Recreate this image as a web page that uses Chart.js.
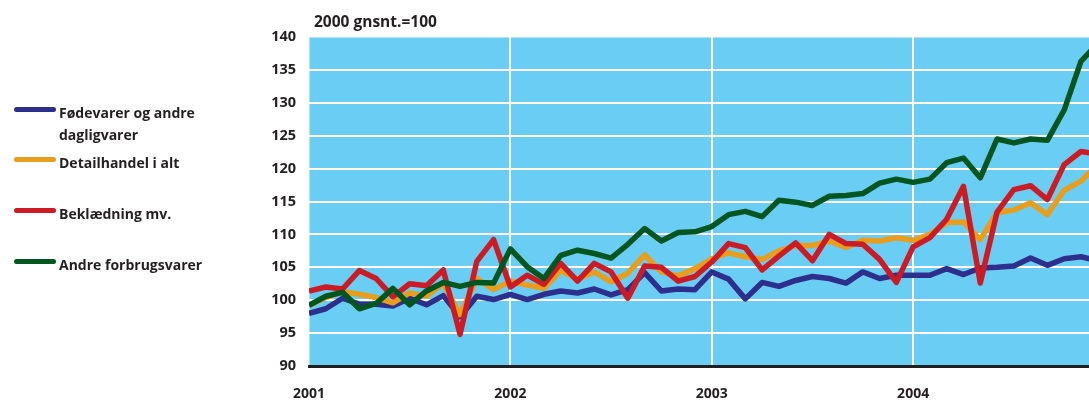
<!DOCTYPE html>
<html>
<head>
<meta charset="utf-8">
<script src="https://cdn.jsdelivr.net/npm/chart.js@4"></script>
<style>
  body { margin: 0; background: #fff; width: 1089px; height: 418px; overflow: hidden; position: relative; }
  #wrap { position: absolute; left: 0; top: 0; width: 1089px; height: 418px; }
  .txt { position: absolute; font-family: "Open Sans", sans-serif; font-weight: 700; font-size: 14px; color: #231F20; white-space: nowrap; }
  .sw { position: absolute; left: 14px; width: 42px; height: 5px; border-radius: 3px; }
</style>
</head>
<body>
<div id="wrap"><canvas id="retail" width="1089" height="418"></canvas></div>
<div class="txt" style="left:314px; top:10px; font-size:15.5px;">2000 gnsnt.=100</div>
<div id="legend"></div>
<script>
// labels
const yearLabels = ['2001', '2002', '2003', '2004'];
const seriesNames = ['Fødevarer og andre dagligvarer', 'Detailhandel i alt', 'Beklædning mv.', 'Andre forbrugsvarer'];
const seriesColors = ['#2E2F8C', '#E89D1C', '#CC1B24', '#00561E'];

// monthly index values, jan 2001 .. dec 2004
const food = [98.0, 98.7, 100.3, 99.4, 99.4, 99.1, 100.3, 99.3, 100.7, 97.5, 100.6, 100.1,
  100.9, 100.1, 100.9, 101.4, 101.1, 101.7, 100.8, 101.6, 104.2, 101.4, 101.7, 101.6,
  104.3, 103.2, 100.2, 102.7, 102.1, 103.0, 103.6, 103.3, 102.6, 104.3, 103.3, 103.8,
  103.8, 103.8, 104.8, 103.9, 104.9, 105.0, 105.2, 106.4, 105.3, 106.3, 106.6, 106.0];
const total = [99.2, 100.4, 101.3, 100.9, 100.4, 99.6, 101.1, 100.6, 102.6, 97.8, 103.3, 101.6,
  102.9, 102.3, 101.8, 104.5, 103.2, 104.3, 102.8, 104.1, 106.9, 104.3, 103.7, 104.8,
  106.3, 107.2, 106.6, 106.2, 107.5, 108.3, 108.3, 109.0, 108.0, 109.1, 109.0, 109.5,
  109.1, 110.0, 111.8, 111.9, 109.2, 113.3, 113.7, 114.8, 113.0, 116.7, 118.1, 120.6];
const clothes = [101.4, 102.0, 101.7, 104.5, 103.3, 100.5, 102.5, 102.2, 104.6, 94.8, 105.9, 109.2,
  102.0, 103.8, 102.4, 105.6, 102.9, 105.6, 104.3, 100.3, 105.2, 105.0, 102.9, 103.6,
  105.8, 108.6, 108.0, 104.6, 106.7, 108.7, 106.0, 110.0, 108.6, 108.5, 106.2, 102.7,
  108.1, 109.5, 112.3, 117.3, 102.6, 113.4, 116.8, 117.4, 115.3, 120.6, 122.6, 122.2];
const other = [99.2, 100.6, 101.2, 98.7, 99.5, 101.8, 99.3, 101.4, 102.7, 102.1, 102.7, 102.6,
  107.8, 105.1, 103.3, 106.8, 107.6, 107.1, 106.4, 108.5, 110.9, 109.0, 110.3, 110.4,
  111.2, 113.0, 113.5, 112.7, 115.2, 114.9, 114.4, 115.8, 115.9, 116.2, 117.8, 118.4,
  117.9, 118.4, 120.9, 121.6, 118.6, 124.5, 123.9, 124.5, 124.3, 128.9, 136.3, 139.0];

const seriesValues = [food, total, clothes, other];

// html legend
const legendTops = [109, 159, 210, 261];
const legend = document.getElementById('legend');
seriesNames.forEach((name, i) => {
  const sw = document.createElement('div');
  sw.className = 'sw';
  sw.style.top = (legendTops[i] - 2.5) + 'px';
  sw.style.background = seriesColors[i];
  legend.appendChild(sw);
  const t = document.createElement('div');
  t.className = 'txt';
  t.style.left = '59px';
  t.style.top = (legendTops[i] - 7) + 'px';
  t.style.lineHeight = '22px';
  t.style.fontSize = '14px';
  t.innerHTML = i === 0 ? 'Fødevarer og andre<br>dagligvarer' : name;
  legend.appendChild(t);
});

// fill plot area
const plotBg = {
  id: 'plotBg',
  beforeDraw(chart) {
    const { ctx, chartArea: a } = chart;
    ctx.save();
    ctx.fillStyle = '#6ACEF4';
    ctx.fillRect(a.left, a.top, a.right - a.left, a.bottom - a.top);
    ctx.restore();
  }
};

const toPoints = arr => arr.map((v, i) => ({ x: i, y: v }));

// green drawn last (dataset 0 is on top)
const drawOrder = [3, 2, 1, 0];
const datasets = drawOrder.map(i => ({
  label: seriesNames[i],
  data: toPoints(seriesValues[i]),
  borderColor: seriesColors[i],
  borderWidth: 5.5,
  borderJoinStyle: 'round',
  pointRadius: 0,
  tension: 0,
  fill: false
}));

new Chart(document.getElementById('retail'), {
  type: 'line',
  data: { datasets },
  options: {
    responsive: false,
    animation: false,
    layout: { padding: { top: 37, right: 0, bottom: 0, left: 0 } },
    plugins: { legend: { display: false }, tooltip: { enabled: false } },
    scales: {
      x: {
        type: 'linear',
        min: 0,
        max: 46.48,
        afterBuildTicks: s => { s.ticks = [0, 12, 24, 36].map(v => ({ value: v })); },
        afterFit: s => { s.height = 52; },
        ticks: {
          callback: v => yearLabels[v / 12],
          color: '#231F20',
          font: { family: 'Open Sans', weight: 'bold', size: 14 },
          padding: 20,
          maxRotation: 0
        },
        grid: {
          color: c => c.index === 0 ? 'rgba(255,255,255,0.45)' : '#ffffff',
          lineWidth: 2,
          drawTicks: false
        },
        border: { display: true, color: '#231F20', width: 3 }
      },
      y: {
        min: 90,
        max: 140,
        afterFit: s => { s.width = 309; },
        ticks: {
          stepSize: 5,
          color: '#231F20',
          font: { family: 'Open Sans', weight: 'bold', size: 14.5 },
          padding: 13
        },
        grid: {
          color: c => c.tick.value === 140 ? 'rgba(255,255,255,0.45)' : '#ffffff',
          lineWidth: 2,
          drawTicks: false
        },
        border: { display: false }
      }
    }
  },
  plugins: [plotBg]
});
</script>
</body>
</html>
